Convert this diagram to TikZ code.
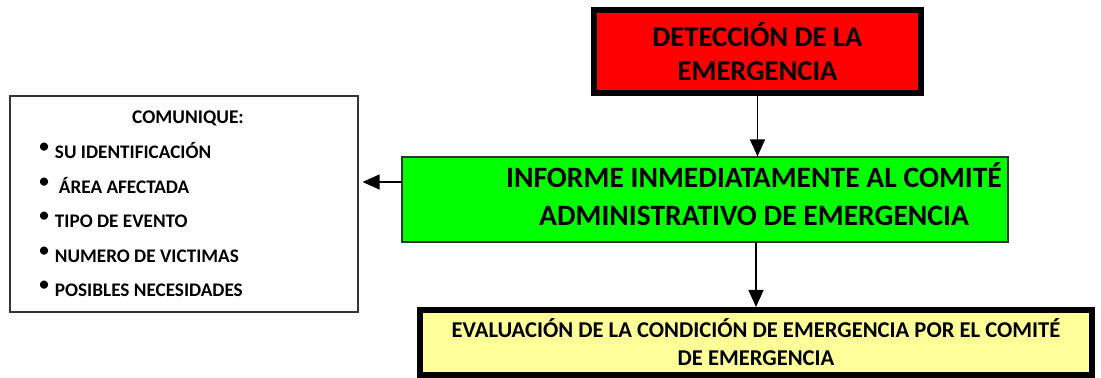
\documentclass[tikz,border=0pt]{standalone}
\usepackage{fontspec}
\setmainfont{Carlito}
\usetikzlibrary{arrows.meta}
\definecolor{alarmred}{RGB}{255,0,0}
\definecolor{informgreen}{RGB}{0,255,0}
\definecolor{evalyellow}{RGB}{255,255,153}
\begin{document}
\begin{tikzpicture}[x=0.5pt,y=-0.5pt]
		\tikzstyle{every node}=[font=\bfseries, inner sep=0pt];
		\tikzstyle{thickbox}=[draw, line width=3pt, align=center];
		\tikzstyle{thinbox}=[draw=black!80, line width=0.6pt, align=center];
		\tikzstyle{flow}=[line width=0.8pt, -{Triangle[length=8.5pt,width=7.5pt]}];
		\useasboundingbox (0,0) rectangle (1101,378);
		\node[thickbox, fill=alarmred, minimum width=163.5pt, minimum height=41.5pt,
			font=\bfseries\fontsize{14.3}{17}\selectfont] (detect) at (757.5,51.5) {DETECCIÓN DE LA\\EMERGENCIA};
		\node[thinbox, fill=informgreen, minimum width=303pt, minimum height=42.5pt,
			font=\bfseries\fontsize{14.8}{17.5}\selectfont] (inform) at (705,199.5)
			{\hspace*{49pt}\raisebox{-2pt}{\begin{tabular}{@{}c@{}}INFORME INMEDIATAMENTE AL COMITÉ\\[1.5pt]ADMINISTRATIVO DE EMERGENCIA\end{tabular}}};
		\node[thickbox, fill=evalyellow, minimum width=336pt, minimum height=32.5pt,
			font=\bfseries\fontsize{11.3}{14}\selectfont] (eval) at (756,342.5)
			{EVALUACIÓN DE LA CONDICIÓN DE EMERGENCIA POR EL COMITÉ\\DE EMERGENCIA};
		\node[thinbox, minimum width=174pt, minimum height=108pt] (comm) at (184,204) {};
		\node[anchor=base, font=\bfseries\fontsize{9.7}{11}\selectfont] (title) at (188,124) {COMUNIQUE:};
		\foreach \txt [count=\i] in {SU IDENTIFICACIÓN, \hspace{2pt}ÁREA AFECTADA, TIPO DE EVENTO,
			NUMERO DE VICTIMAS, POSIBLES NECESIDADES}
			\node[anchor=base west, font=\bfseries\fontsize{9.6}{11}\selectfont] (item\i) at (39,124+34.6*\i)
				{\raisebox{3pt}{\textbullet}\hspace{3pt}\txt};
		\coordinate (tap) at (402,182);
		\draw[flow] (detect.south) -- (detect.south |- inform.north);
		\draw[flow] (tap) -- ([xshift=2pt]tap -| comm.east);
		\draw[flow] (inform.south -| eval.north) -- (eval.north);
	\end{tikzpicture}
\end{document}
